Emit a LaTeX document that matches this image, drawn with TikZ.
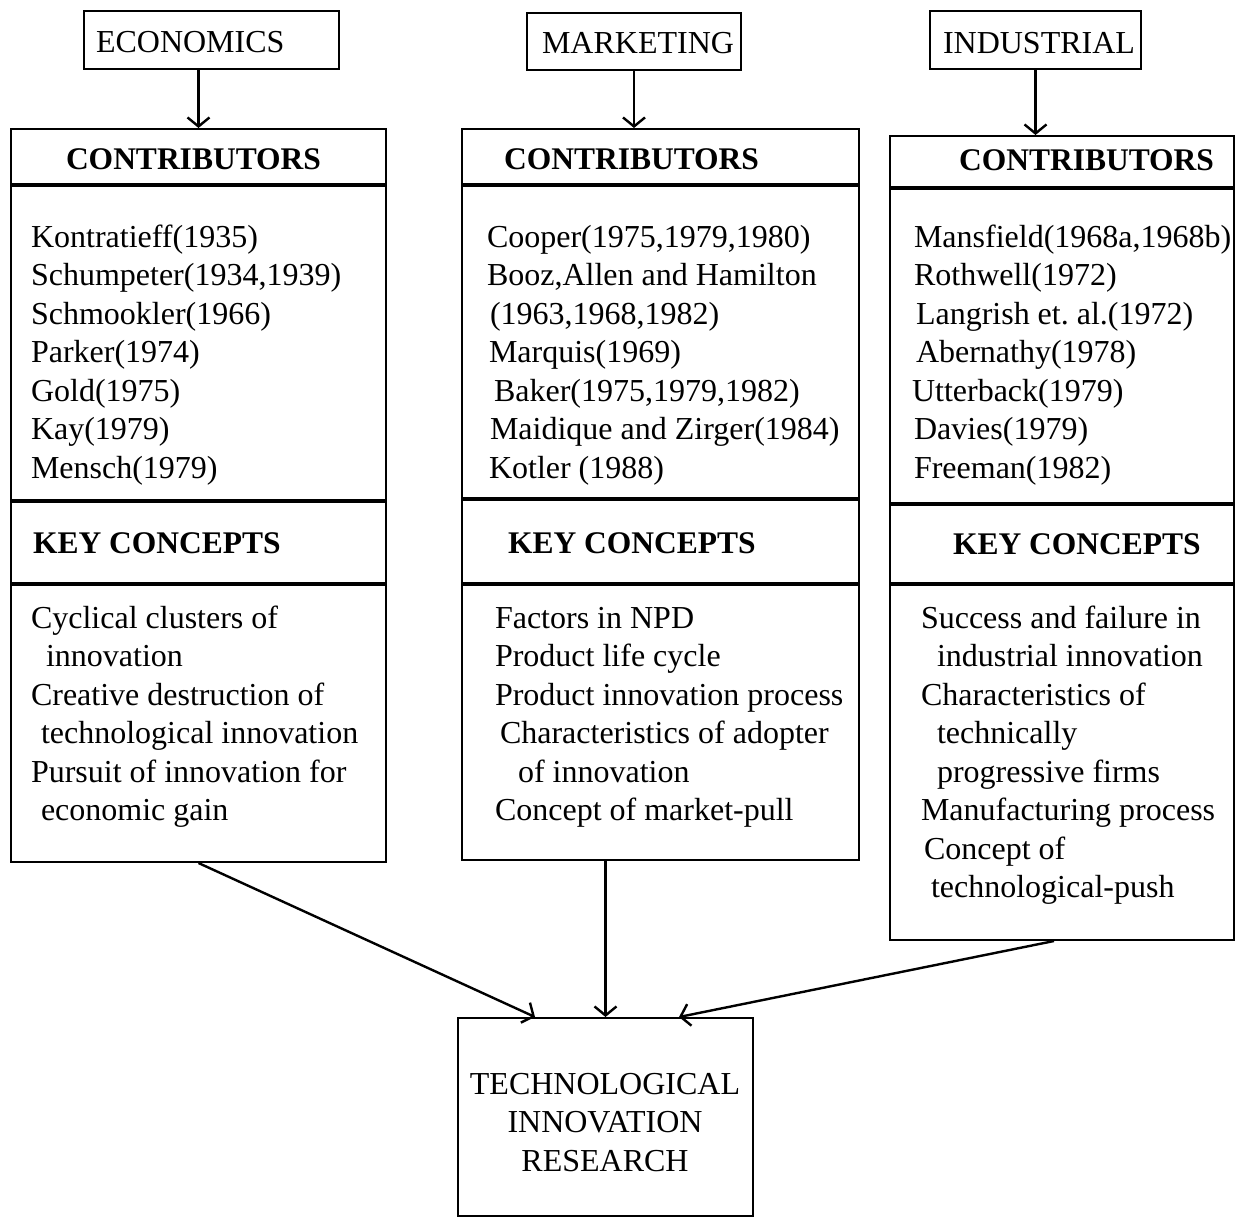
\documentclass[tikz,border=0pt]{standalone}
\usepackage{fontspec}
\setmainfont{Liberation Serif}
\usetikzlibrary{arrows.meta}

\begin{document}
\begin{tikzpicture}[x=1pt, y=-1pt, line width=2pt,
  box/.style={draw, rectangle, anchor=north west, inner sep=0pt},
  txt/.style={anchor=base west, align=left, inner sep=0pt, font=\fontsize{32}{38.5}\selectfont},
  hdr/.style={txt, font=\fontsize{31.5}{38.5}\selectfont\bfseries},
  arr/.style={line width=2.4pt, -{Straight Barb[length=9pt,width=22pt]}}]

\useasboundingbox (0,0) rectangle (1244,1218);

%Disciplines
\node[box, minimum width=255pt, minimum height=58pt] (econ) at (83,10) {};
\node[box, minimum width=214pt, minimum height=57pt] (mark) at (526,12) {};
\node[box, minimum width=211pt, minimum height=58pt] (indu) at (929,10) {};
\node[txt] (econt) at (95,52) {ECONOMICS};
\node[txt] (markt) at (541,53) {MARKETING};
\node[txt] (indut) at (942,53) {INDUSTRIAL};

%Economics column (lists placed by the baseline of their last line)
\node[box, minimum width=375pt, minimum height=55pt] (ehead) at (10,128) {};
\node[box, minimum width=375pt, minimum height=314pt] (elist) at (ehead.south west) {};
\node[box, minimum width=375pt, minimum height=81pt] (ekey) at (elist.south west) {};
\node[box, minimum width=375pt, minimum height=277pt] (ekc) at (ekey.south west) {};
\node[hdr] (ehdr) at (65,169) {CONTRIBUTORS};
\node[hdr] (ekhdr) at (32,553) {KEY CONCEPTS};
\node[txt] (enames) at (30,478) {Kontratieff(1935)\\Schumpeter(1934,1939)\\Schmookler(1966)\\Parker(1974)\\Gold(1975)\\Kay(1979)\\Mensch(1979)};
\node[txt] (econc) at (30,820.5) {Cyclical clusters of\\\hspace*{15pt}innovation\\Creative destruction of\\\hspace*{10pt}technological innovation\\Pursuit of innovation for\\\hspace*{10pt}economic gain};

%Marketing column
\node[box, minimum width=397pt, minimum height=55pt] (mhead) at (461,128) {};
\node[box, minimum width=397pt, minimum height=312pt] (mlist) at (mhead.south west) {};
\node[box, minimum width=397pt, minimum height=83pt] (mkey) at (mlist.south west) {};
\node[box, minimum width=397pt, minimum height=275pt] (mkc) at (mkey.south west) {};
\node[hdr] (mhdr) at (503,169) {CONTRIBUTORS};
\node[hdr] (mkhdr) at (507,553) {KEY CONCEPTS};
\node[txt] (mnames) at (486,478) {Cooper(1975,1979,1980)\\Booz,Allen and Hamilton\\\hspace*{3pt}(1963,1968,1982)\\\hspace*{2pt}Marquis(1969)\\\hspace*{7pt}Baker(1975,1979,1982)\\\hspace*{3pt}Maidique and Zirger(1984)\\\hspace*{2pt}Kotler (1988)};
\node[txt] (mconc) at (494,820.5) {Factors in NPD\\Product life cycle\\Product innovation process\\\hspace*{5pt}Characteristics of adopter\\\hspace*{23pt}of innovation\\Concept of market-pull};

%Industrial column
\node[box, minimum width=344pt, minimum height=51pt] (ihead) at (889,135) {};
\node[box, minimum width=344pt, minimum height=314pt] (ilist) at (ihead.south west) {};
\node[box, minimum width=344pt, minimum height=78pt] (ikey) at (ilist.south west) {};
\node[box, minimum width=344pt, minimum height=355pt] (ikc) at (ikey.south west) {};
\node[hdr] (ihdr) at (958,170) {CONTRIBUTORS};
\node[hdr] (ikhdr) at (952,554) {KEY CONCEPTS};
\node[txt] (inames) at (913,478) {Mansfield(1968a,1968b)\\Rothwell(1972)\\\hspace*{2pt}Langrish et.\ al.(1972)\\\hspace*{2pt}Abernathy(1978)\\\hspace*{-2pt}Utterback(1979)\\Davies(1979)\\Freeman(1982)};
\node[txt] (iconc) at (920,897.5) {Success and failure in\\\hspace*{16pt}industrial innovation\\Characteristics of\\\hspace*{16pt}technically\\\hspace*{16pt}progressive firms\\Manufacturing process\\\hspace*{3pt}Concept of\\\hspace*{10pt}technological-push};

%Result
\node[box, minimum width=295pt, minimum height=198pt] (tir) at (457,1017) {};
\node[txt, align=center, anchor=base] (tirt) at (605,1171) {TECHNOLOGICAL\\INNOVATION\\RESEARCH};

%Arrows
\draw[arr] (econ.south -| ehead.north) -- (ehead.north);
\draw[arr] (mark.south) -- (mark.south |- mhead.north);
\draw[arr] (indu.south) -- (indu.south |- ihead.north);
\draw[arr] (ekc.south) -- ([xshift=78pt]tir.north west);
\draw[arr] (tir.north |- mkc.south) -- (tir.north);
\draw[arr] ([xshift=-8pt]ikc.south) -- ([xshift=-75pt]tir.north east);

\end{tikzpicture}
\end{document}
